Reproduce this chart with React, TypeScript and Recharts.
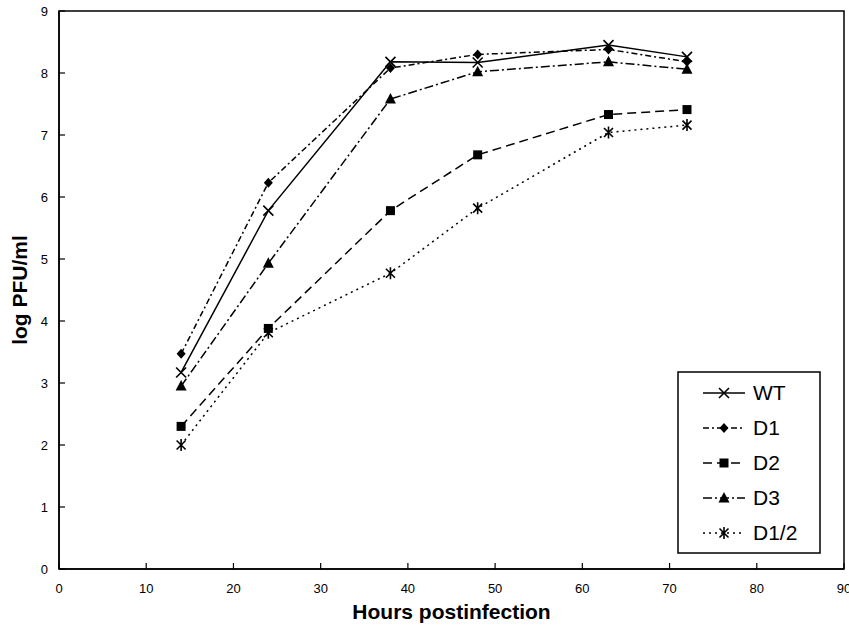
import React from "react";
import { Line, LineChart, ReferenceArea, XAxis, YAxis } from "recharts";

const hours = [14, 24, 38, 48, 63, 72];
const wt = [3.17, 5.78, 8.18, 8.17, 8.45, 8.26];
const d1 = [3.47, 6.23, 8.08, 8.3, 8.38, 8.18];
const d2 = [2.3, 3.88, 5.78, 6.68, 7.33, 7.41];
const d3 = [2.95, 4.93, 7.58, 8.02, 8.18, 8.06];
const d12 = [2.0, 3.81, 4.77, 5.82, 7.04, 7.16];

const xTicks = [0, 10, 20, 30, 40, 50, 60, 70, 80, 90];
const yTicks = [0, 1, 2, 3, 4, 5, 6, 7, 8, 9];

const data = hours.map((h, i) => ({ h, wt: wt[i], d1: d1[i], d2: d2[i], d3: d3[i], d12: d12[i] }));

const FONT = "'Liberation Sans', Arial, sans-serif";

const Cross = ({ cx, cy }: any) => (
  <path d={`M${cx - 5},${cy - 5}L${cx + 5},${cy + 5}M${cx - 5},${cy + 5}L${cx + 5},${cy - 5}`} stroke="#000" strokeWidth={1.6} fill="none" />
);
const Diamond = ({ cx, cy }: any) => (
  <polygon points={`${cx},${cy - 5} ${cx + 4.5},${cy} ${cx},${cy + 5} ${cx - 4.5},${cy}`} fill="#000" />
);
const Square = ({ cx, cy }: any) => <rect x={cx - 4.5} y={cy - 4.5} width={9} height={9} fill="#000" />;
const Triangle = ({ cx, cy }: any) => (
  <polygon points={`${cx},${cy - 6} ${cx + 5.5},${cy + 4.5} ${cx - 5.5},${cy + 4.5}`} fill="#000" />
);
const Star = ({ cx, cy }: any) => (
  <path
    d={`M${cx - 4.5},${cy - 4.5}L${cx + 4.5},${cy + 4.5}M${cx - 4.5},${cy + 4.5}L${cx + 4.5},${cy - 4.5}M${cx},${cy - 6}L${cx},${cy + 6}`}
    stroke="#000"
    strokeWidth={1.6}
    fill="none"
  />
);

const series = [
  { key: "wt", name: "WT", dash: undefined, Dot: Cross },
  { key: "d1", name: "D1", dash: "6 3 2 3", Dot: Diamond },
  { key: "d2", name: "D2", dash: "9 5", Dot: Square },
  { key: "d3", name: "D3", dash: "9 3 2 3", Dot: Triangle },
  { key: "d12", name: "D1/2", dash: "2 4", Dot: Star },
];

const XTick = ({ x, y, payload }: any) => {
  const axisY = y - 8;
  return (
    <g>
      <line x1={x} x2={x} y1={axisY} y2={axisY - 6} stroke="#000" strokeWidth={1.2} />
      <text x={x} y={axisY + 24} textAnchor="middle" fontSize={13} fontFamily={FONT} fill="#000">
        {payload.value}
      </text>
    </g>
  );
};

const YTick = ({ x, y, payload }: any) => {
  const axisX = x + 8;
  return (
    <g>
      <line x1={axisX} x2={axisX + 6} y1={y} y2={y} stroke="#000" strokeWidth={1.2} />
      <text x={axisX - 11} y={y + 5} textAnchor="end" fontSize={13} fontFamily={FONT} fill="#000">
        {payload.value}
      </text>
    </g>
  );
};

function LegendBox() {
  const rows = [22, 57, 92, 127, 162];
  return (
    <svg width={144} height={183} style={{ position: "absolute", left: 677, top: 371 }}>
      <rect x={1} y={1} width={142} height={181} fill="#fff" stroke="#000" strokeWidth={1.5} />
      {series.map((s, i) => (
        <g key={s.key}>
          <line x1={26} x2={68} y1={rows[i]} y2={rows[i]} stroke="#000" strokeWidth={1.5} strokeDasharray={s.dash} />
          <s.Dot cx={47} cy={rows[i]} />
          <text x={76} y={rows[i] + 7} fontSize={21} fontFamily={FONT} fill="#000">
            {s.name}
          </text>
        </g>
      ))}
    </svg>
  );
}

export default function App() {
  return (
    <div style={{ position: "absolute", left: 0, top: 0, width: 849, height: 630, background: "#fff" }}>
      <LineChart width={849} height={630} data={data} margin={{ top: 11, right: 5, left: 0, bottom: 0 }}>
        <ReferenceArea x1={0} x2={90} y1={0} y2={9} fill="none" stroke="#000" strokeWidth={1.5} ifOverflow="visible" />
        <XAxis
          dataKey="h"
          type="number"
          domain={[0, 90]}
          ticks={xTicks}
          height={61}
          tickLine={false}
          axisLine={{ stroke: "#000", strokeWidth: 1.5 }}
          tick={<XTick />}
          interval={0}
          label={{
            content: ({ viewBox }: any) => (
              <text x={viewBox.x + viewBox.width / 2} y={619} textAnchor="middle" fontSize={21} fontWeight="bold" fontFamily={FONT} fill="#000">
                Hours postinfection
              </text>
            ),
          }}
        />
        <YAxis
          type="number"
          domain={[0, 9]}
          ticks={yTicks}
          width={59}
          tickLine={false}
          axisLine={{ stroke: "#000", strokeWidth: 1.5 }}
          tick={<YTick />}
          interval={0}
          label={{
            content: () => (
              <text x={27} y={290} transform="rotate(-90 27 290)" textAnchor="middle" fontSize={21} fontWeight="bold" fontFamily={FONT} fill="#000">
                log PFU/ml
              </text>
            ),
          }}
        />
        {series.map((s) => (
          <Line
            key={s.key}
            dataKey={s.key}
            name={s.name}
            type="linear"
            stroke="#000"
            strokeWidth={1.5}
            strokeDasharray={s.dash}
            dot={(p: any) => <s.Dot key={`${s.key}-${p.index}`} cx={p.cx} cy={p.cy} />}
            activeDot={false}
            isAnimationActive={false}
          />
        ))}
      </LineChart>
      <LegendBox />
    </div>
  );
}
